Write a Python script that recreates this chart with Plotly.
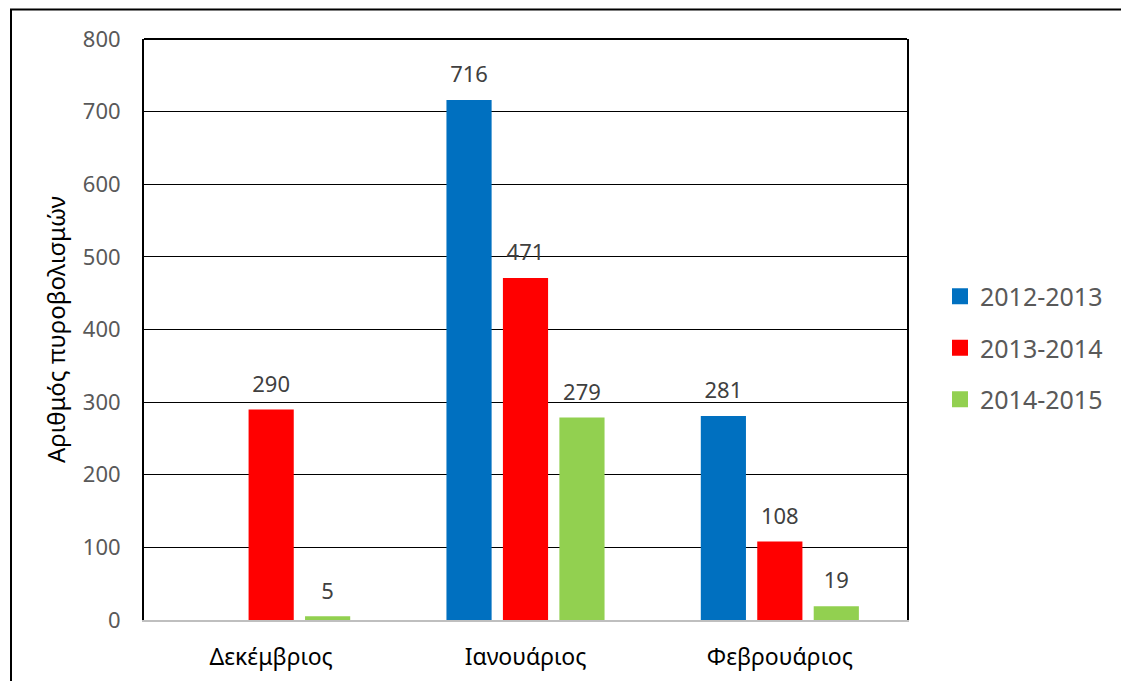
import plotly.graph_objects as go

months = ["Δεκέμβριος", "Ιανουάριος", "Φεβρουάριος"]
seasons = ["2012-2013", "2013-2014", "2014-2015"]
values_2012_2013 = [None, 716, 281]
values_2013_2014 = [290, 471, 108]
values_2014_2015 = [5, 279, 19]
colors = ["#0070C0", "#FF0000", "#92D050"]

series = [values_2012_2013, values_2013_2014, values_2014_2015]

FONT = "Noto Sans"
W, H = 1121, 681
L, R, T, B = 144, 907, 39, 620
GAP = 0.334

fig = go.Figure()
for i, (name, vals, col) in enumerate(zip(seasons, series, colors)):
    fig.add_trace(go.Bar(
        x=months, y=vals, name=name, offsetgroup=str(i),
        marker=dict(color=col, line=dict(width=0)),
        showlegend=False, hoverinfo="x+y+name",
    ))
# value labels, grouped to sit over their bars
for i, vals in enumerate(series):
    fig.add_trace(go.Scatter(
        x=months, y=vals, mode="markers+text", offsetgroup=str(i),
        text=[("" if v is None else str(v)) for v in vals],
        textposition="top center", cliponaxis=False,
        textfont=dict(family=FONT, size=22, color="#404040"),
        marker=dict(size=18, opacity=0),
        showlegend=False, hoverinfo="skip",
    ))
# legend entries with larger square swatches
for i, (name, col) in enumerate(zip(seasons, colors)):
    fig.add_trace(go.Scatter(
        x=[None], y=[None], mode="markers", name=name,
        marker=dict(symbol="square", size=16, color=col),
        legendgroup=f"g{i}", showlegend=True,
    ))


def px_x(p):
    return (p - L) / (R - L)


def px_y(p):
    return (B - p) / (B - T)


fig.update_layout(
    width=W, height=H,
    margin=dict(l=L, r=W - R, t=T, b=H - B, pad=0, autoexpand=False),
    paper_bgcolor="white", plot_bgcolor="white",
    barmode="group", bargap=GAP, bargroupgap=0.2,
    scattermode="group", scattergap=GAP,
    font=dict(family=FONT, color="#595959"),
    legend=dict(
        x=px_x(940), y=px_y(348), xanchor="left", yanchor="middle",
        font=dict(family=FONT, size=25, color="#595959"),
        traceorder="grouped", tracegroupgap=16,
        itemsizing="trace", bgcolor="rgba(0,0,0,0)",
    ),
    xaxis=dict(
        automargin=False,
        showline=True, linecolor="#BFBFBF", linewidth=2,
        showgrid=False, ticks="", ticklabelstandoff=15,
        tickfont=dict(family=FONT, size=23, color="#000000"),
    ),
    yaxis=dict(
        automargin=False,
        range=[0, 800], dtick=100, showgrid=True, gridcolor="#000000", gridwidth=1,
        zeroline=False, showline=True, linecolor="#000000", linewidth=2, mirror=True,
        ticks="", ticklabelstandoff=17,
        tickfont=dict(family=FONT, size=22, color="#595959"),
        title=dict(text="Αριθμός πυροβολισμών", standoff=10,
                   font=dict(family=FONT, size=24, color="#000000")),
    ),
    shapes=[
        dict(type="line", xref="paper", yref="paper",
             x0=0, x1=1, y0=1, y1=1, line=dict(color="#000000", width=2)),
        dict(type="rect", xref="paper", yref="paper",
             x0=px_x(11), x1=px_x(1125), y0=px_y(690), y1=px_y(9.5),
             line=dict(color="#000000", width=2), fillcolor="rgba(0,0,0,0)"),
    ],
)

fig.write_html("out.html")
